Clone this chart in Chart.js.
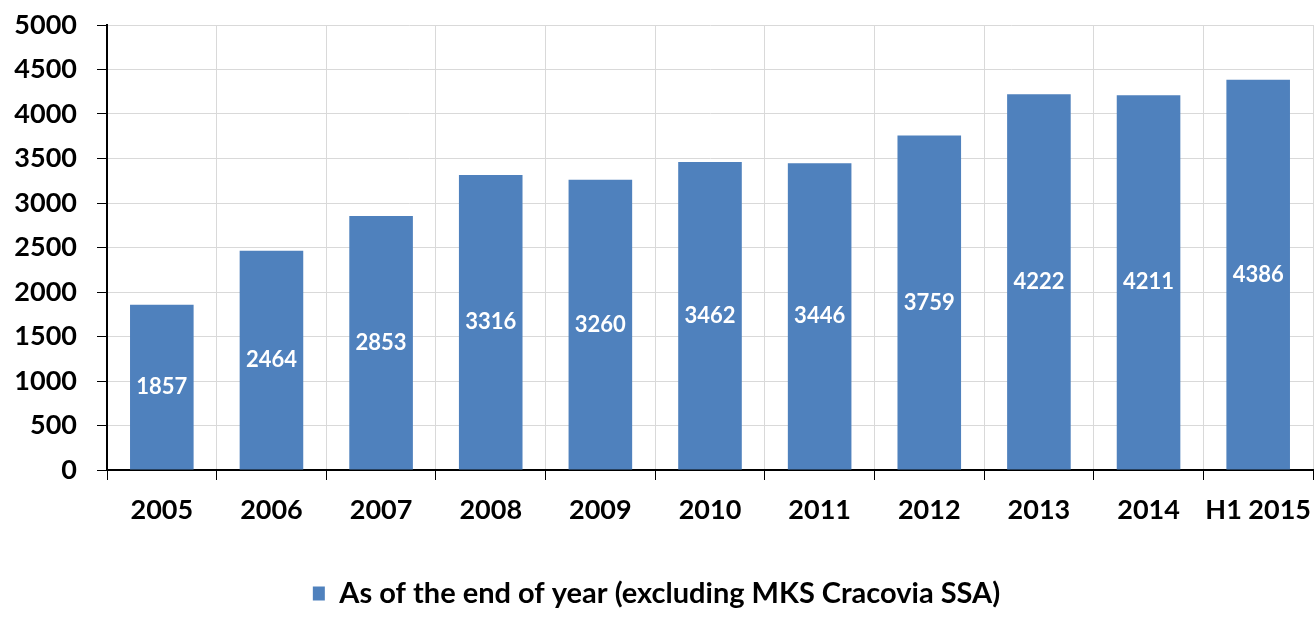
<!DOCTYPE html>
<html>
<head>
<meta charset="utf-8">
<script src="https://cdn.jsdelivr.net/npm/chart.js@4"></script>
<style>
  html,body{margin:0;padding:0;background:#fff}
  #wrap{width:1316px;height:618px;position:relative}
</style>
</head>
<body>
<div id="wrap"><canvas id="members-chart"></canvas></div>
<script>
const categories = ['2005','2006','2007','2008','2009','2010','2011','2012','2013','2014','H1 2015'];
const members = [1857, 2464, 2853, 3316, 3260, 3462, 3446, 3759, 4222, 4211, 4386];
const seriesName = 'As of the end of year (excluding MKS Cracovia SSA)';
const yTicks = [0, 500, 1000, 1500, 2000, 2500, 3000, 3500, 4000, 4500, 5000];

const FONT = 'Lato';

// white value labels in the middle of each bar
const barValues = {
  id: 'barValues',
  afterDatasetsDraw(chart) {
    const ctx = chart.ctx;
    const meta = chart.getDatasetMeta(0);
    ctx.save();
    ctx.fillStyle = '#fff';
    ctx.font = `bold 22px ${FONT}`;
    ctx.textAlign = 'center';
    ctx.textBaseline = 'middle';
    meta.data.forEach((bar, i) => {
      ctx.fillText(String(members[i]), bar.x, (bar.y + bar.base) / 2);
    });
    ctx.restore();
  }
};

new Chart(document.getElementById('members-chart'), {
  type: 'bar',
  data: {
    labels: categories,
    datasets: [{
      label: seriesName,
      data: members,
      backgroundColor: '#4F81BD',
      barPercentage: 0.58,
      categoryPercentage: 1,
    }],
  },
  options: {
    responsive: true, maintainAspectRatio: false,
    animation: false,
    layout: { padding: { top: 25, right: 3, bottom: 0, left: 0 } },
    plugins: {
      legend: {
        position: 'bottom',
        labels: {
          color: '#000', boxWidth: 12, boxHeight: 14, padding: 8,
          font: { family: FONT, size: 29, weight: 'bold' },
        },
      },
      tooltip: { enabled: false },
    },
    scales: {
      x: {
        grid: { color: '#d9d9d9', tickColor: '#000', tickLength: 10, offset: true },
        border: { color: '#000', width: 2 },
        ticks: { color: '#000', padding: 14, maxRotation: 0, font: { family: FONT, size: 27, weight: 'bold' } },
        afterFit: s => { s.height = 101; s.paddingLeft = 0; s.paddingRight = 0; },
      },
      y: {
        min: 0, max: 5000,
        afterBuildTicks: s => { s.ticks = yTicks.map(v => ({ value: v })); },
        grid: { color: '#d9d9d9', tickColor: '#000', tickLength: 10 },
        border: { color: '#000', width: 2 },
        ticks: { color: '#000', padding: 20, callback: v => String(v), font: { family: FONT, size: 27, weight: 'bold' } },
        afterFit: s => { s.width = 107; s.paddingTop = 0; s.paddingBottom = 0; },
      },
    },
  },
  plugins: [barValues],
});
</script>
</body>
</html>
